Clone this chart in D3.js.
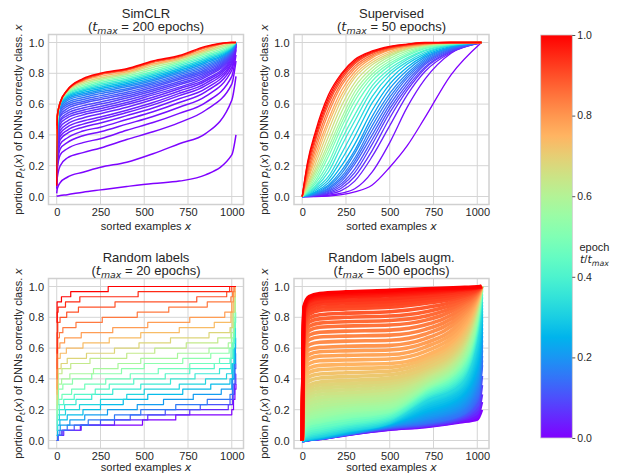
<!DOCTYPE html>
<html>
<head>
<meta charset="utf-8">
<script src="https://cdn.jsdelivr.net/npm/d3@7"></script>
<style>
body { margin: 0; background: #fff; }
svg { display: block; font-family: "Liberation Sans", Arial, sans-serif; }
</style>
</head>
<body>
<svg id="chart" width="618" height="474"></svg>
<script>
"use strict";

// ---- data ----
var xTicks = [0, 250, 500, 750, 1000];
var yTicks = [0, 0.2, 0.4, 0.6, 0.8, 1.0];
var cbarTicks = [0, 0.2, 0.4, 0.6, 0.8, 1.0];

var panelTitles = ["SimCLR", "Supervised", "Random labels", "Random labels augm."];
var panelTmax = [200, 50, 20, 500];

// SimCLR: sorted-example positions and one row per plotted epoch
var simclrX = [0, 3, 20, 60, 150, 250, 400, 550, 700, 850, 1000, 1024];
var simclrEpochs = [0, 1, 2, 3, 4, 5, 6, 7, 8, 9, 10, 12, 14, 16, 18, 20, 23, 26, 30, 35, 40, 48, 56, 66, 78, 90, 104, 118, 134, 150, 168, 184, 199];
var simclrValues = [
	[0.00, 0.003, 0.006, 0.012, 0.028, 0.043, 0.065, 0.085, 0.10, 0.14, 0.27, 0.40],
	[0.02, 0.05, 0.09, 0.125, 0.158, 0.19, 0.223, 0.278, 0.343, 0.408, 0.625, 0.78],
	[0.05, 0.12, 0.20, 0.25, 0.285, 0.315, 0.37, 0.42, 0.48, 0.56, 0.73, 0.88],
	[0.07, 0.17, 0.27, 0.31, 0.35, 0.375, 0.43, 0.48, 0.54, 0.61, 0.78, 0.92],
	[0.08, 0.20, 0.31, 0.35, 0.395, 0.42, 0.47, 0.52, 0.58, 0.65, 0.82, 0.95],
	[0.09, 0.22, 0.34, 0.38, 0.425, 0.45, 0.50, 0.55, 0.61, 0.68, 0.84, 0.96],
	[0.10, 0.24, 0.37, 0.41, 0.45, 0.477, 0.525, 0.575, 0.635, 0.70, 0.86, 0.97],
	[0.11, 0.26, 0.39, 0.43, 0.47, 0.50, 0.545, 0.595, 0.655, 0.72, 0.87, 0.975],
	[0.12, 0.28, 0.41, 0.45, 0.49, 0.516, 0.56, 0.61, 0.67, 0.735, 0.88, 0.98],
	[0.13, 0.29, 0.43, 0.47, 0.51, 0.538, 0.58, 0.63, 0.685, 0.75, 0.89, 0.98],
	[0.14, 0.31, 0.45, 0.49, 0.53, 0.555, 0.597, 0.645, 0.70, 0.76, 0.90, 0.985],
	[0.15, 0.33, 0.47, 0.51, 0.545, 0.57, 0.61, 0.66, 0.71, 0.775, 0.91, 0.99],
	[0.16, 0.34, 0.49, 0.525, 0.56, 0.585, 0.625, 0.672, 0.725, 0.785, 0.915, 0.99],
	[0.17, 0.36, 0.50, 0.54, 0.575, 0.60, 0.64, 0.685, 0.735, 0.795, 0.92, 0.99],
	[0.18, 0.37, 0.52, 0.555, 0.59, 0.614, 0.652, 0.697, 0.747, 0.805, 0.925, 0.99],
	[0.19, 0.38, 0.53, 0.57, 0.605, 0.63, 0.665, 0.71, 0.76, 0.815, 0.93, 0.995],
	[0.20, 0.39, 0.545, 0.585, 0.617, 0.642, 0.677, 0.72, 0.77, 0.825, 0.935, 0.995],
	[0.20, 0.40, 0.56, 0.598, 0.63, 0.655, 0.69, 0.73, 0.78, 0.835, 0.94, 0.995],
	[0.21, 0.41, 0.57, 0.61, 0.643, 0.668, 0.70, 0.74, 0.79, 0.845, 0.945, 0.995],
	[0.22, 0.42, 0.58, 0.623, 0.655, 0.68, 0.712, 0.752, 0.80, 0.855, 0.95, 1.0],
	[0.23, 0.43, 0.59, 0.633, 0.665, 0.69, 0.722, 0.762, 0.81, 0.865, 0.955, 1.0],
	[0.24, 0.44, 0.595, 0.642, 0.675, 0.70, 0.732, 0.772, 0.82, 0.875, 0.96, 1.0],
	[0.25, 0.45, 0.60, 0.65, 0.685, 0.71, 0.742, 0.782, 0.83, 0.885, 0.965, 1.0],
	[0.27, 0.46, 0.605, 0.657, 0.693, 0.72, 0.752, 0.792, 0.84, 0.895, 0.97, 1.0],
	[0.30, 0.47, 0.61, 0.664, 0.702, 0.73, 0.762, 0.802, 0.85, 0.905, 0.975, 1.0],
	[0.33, 0.48, 0.61, 0.67, 0.71, 0.74, 0.772, 0.812, 0.86, 0.915, 0.98, 1.0],
	[0.36, 0.49, 0.61, 0.675, 0.72, 0.75, 0.782, 0.825, 0.87, 0.925, 0.985, 1.0],
	[0.38, 0.50, 0.61, 0.68, 0.73, 0.76, 0.792, 0.838, 0.88, 0.935, 0.99, 1.0],
	[0.40, 0.51, 0.61, 0.683, 0.74, 0.77, 0.80, 0.85, 0.89, 0.945, 0.995, 1.0],
	[0.42, 0.52, 0.61, 0.686, 0.75, 0.78, 0.81, 0.86, 0.897, 0.955, 1.0, 1.0],
	[0.44, 0.52, 0.61, 0.688, 0.755, 0.79, 0.82, 0.87, 0.905, 0.965, 1.0, 1.0],
	[0.46, 0.52, 0.61, 0.69, 0.76, 0.795, 0.825, 0.875, 0.91, 0.97, 1.0, 1.0],
	[0.07, 0.52, 0.61, 0.69, 0.765, 0.80, 0.83, 0.88, 0.915, 0.975, 1.0, 1.0]
];

// Supervised
var supX = [0, 30, 75, 150, 225, 300, 400, 500, 600, 700, 850, 1024];
var supEpochs = [0, 1, 2, 3, 4, 5, 6, 7, 8, 9, 10, 12, 14, 16, 18, 20, 22, 24, 26, 28, 30, 32, 34, 36, 38, 40, 42, 44, 46, 48, 49];
var supValues = [
	[0, 0.0, 0.0, 0.003, 0.012, 0.03, 0.075, 0.19, 0.33, 0.51, 0.79, 1.0],
	[0, 0.0, 0.002, 0.008, 0.022, 0.05, 0.16, 0.35, 0.58, 0.76, 0.93, 1.0],
	[0, 0.0, 0.004, 0.015, 0.04, 0.10, 0.26, 0.46, 0.66, 0.81, 0.935, 1.0],
	[0, 0.001, 0.006, 0.02, 0.055, 0.13, 0.30, 0.51, 0.69, 0.83, 0.94, 1.0],
	[0, 0.001, 0.008, 0.027, 0.07, 0.155, 0.34, 0.545, 0.71, 0.84, 0.945, 1.0],
	[0, 0.002, 0.01, 0.033, 0.085, 0.18, 0.37, 0.57, 0.73, 0.855, 0.95, 1.0],
	[0, 0.002, 0.012, 0.04, 0.10, 0.21, 0.40, 0.595, 0.75, 0.865, 0.955, 1.0],
	[0, 0.003, 0.014, 0.048, 0.115, 0.23, 0.43, 0.62, 0.77, 0.875, 0.96, 1.0],
	[0, 0.004, 0.017, 0.055, 0.13, 0.25, 0.46, 0.645, 0.785, 0.885, 0.965, 1.0],
	[0, 0.005, 0.02, 0.065, 0.15, 0.28, 0.49, 0.67, 0.80, 0.895, 0.968, 1.0],
	[0, 0.006, 0.025, 0.075, 0.17, 0.30, 0.52, 0.70, 0.82, 0.905, 0.97, 1.0],
	[0, 0.008, 0.03, 0.09, 0.20, 0.34, 0.56, 0.73, 0.84, 0.915, 0.975, 1.0],
	[0, 0.01, 0.04, 0.11, 0.24, 0.39, 0.61, 0.76, 0.86, 0.925, 0.98, 1.0],
	[0, 0.015, 0.05, 0.13, 0.28, 0.44, 0.65, 0.79, 0.875, 0.935, 0.982, 1.0],
	[0, 0.02, 0.06, 0.16, 0.33, 0.49, 0.69, 0.81, 0.89, 0.945, 0.985, 1.0],
	[0, 0.025, 0.07, 0.19, 0.37, 0.53, 0.72, 0.83, 0.90, 0.95, 0.988, 1.0],
	[0, 0.03, 0.085, 0.22, 0.41, 0.58, 0.75, 0.85, 0.915, 0.96, 0.99, 1.0],
	[0, 0.035, 0.10, 0.26, 0.45, 0.62, 0.775, 0.865, 0.925, 0.965, 0.992, 1.0],
	[0, 0.04, 0.12, 0.29, 0.48, 0.65, 0.795, 0.88, 0.935, 0.97, 0.993, 1.0],
	[0, 0.05, 0.14, 0.32, 0.51, 0.68, 0.815, 0.895, 0.945, 0.975, 0.994, 1.0],
	[0, 0.06, 0.16, 0.35, 0.55, 0.71, 0.835, 0.91, 0.955, 0.98, 0.995, 1.0],
	[0, 0.07, 0.18, 0.39, 0.59, 0.74, 0.855, 0.92, 0.96, 0.982, 0.996, 1.0],
	[0, 0.08, 0.21, 0.43, 0.63, 0.77, 0.87, 0.93, 0.965, 0.985, 0.997, 1.0],
	[0, 0.10, 0.24, 0.47, 0.66, 0.79, 0.885, 0.94, 0.97, 0.987, 0.998, 1.0],
	[0, 0.11, 0.27, 0.50, 0.69, 0.81, 0.90, 0.95, 0.975, 0.99, 0.998, 1.0],
	[0, 0.13, 0.30, 0.54, 0.72, 0.83, 0.91, 0.955, 0.978, 0.99, 1.0, 1.0],
	[0, 0.15, 0.33, 0.57, 0.74, 0.845, 0.92, 0.96, 0.98, 0.993, 1.0, 1.0],
	[0, 0.17, 0.36, 0.60, 0.76, 0.86, 0.93, 0.965, 0.984, 0.995, 1.0, 1.0],
	[0, 0.19, 0.38, 0.62, 0.775, 0.87, 0.935, 0.968, 0.986, 0.997, 1.0, 1.0],
	[0, 0.21, 0.40, 0.64, 0.79, 0.88, 0.94, 0.972, 0.988, 0.998, 1.0, 1.0],
	[0, 0.22, 0.42, 0.66, 0.80, 0.89, 0.945, 0.975, 0.99, 1.0, 1.0, 1.0]
];

// Random labels: staircases [x, number of the 30 DNNs], one per epoch 0..19
var randNets = 30;
var randSteps = [
	[[0, 0], [5, 1], [30, 2], [135, 3], [490, 4], [680, 5], [1000, 6], [1010, 8], [1018, 10], [1024, 11]],
	[[0, 0], [8, 1], [40, 2], [140, 3], [330, 4], [520, 5], [760, 6], [980, 7], [1005, 9], [1016, 11], [1023, 13], [1024, 13]],
	[[0, 0], [6, 1], [30, 2], [100, 3], [250, 4], [420, 5], [620, 6], [820, 7], [990, 8], [1008, 11], [1018, 14], [1023, 15], [1024, 15]],
	[[0, 0], [6, 1], [18, 2], [60, 3], [180, 4], [330, 5], [480, 6], [680, 7], [860, 8], [990, 9], [1005, 12], [1016, 15], [1022, 17], [1024, 17]],
	[[0, 1], [5, 2], [20, 3], [75, 4], [160, 5], [290, 6], [460, 7], [610, 8], [780, 9], [940, 10], [1000, 12], [1012, 15], [1021, 18], [1024, 18]],
	[[0, 1], [5, 3], [18, 4], [60, 5], [150, 6], [250, 7], [380, 8], [520, 9], [720, 10], [880, 11], [990, 12], [1005, 15], [1015, 18], [1022, 20], [1024, 20]],
	[[0, 2], [4, 4], [15, 5], [50, 6], [130, 7], [250, 8], [400, 9], [500, 10], [700, 11], [850, 12], [970, 13], [1000, 15], [1012, 19], [1021, 22], [1024, 22]],
	[[0, 2], [4, 5], [15, 6], [45, 7], [110, 8], [200, 9], [320, 10], [480, 11], [650, 12], [790, 13], [930, 14], [995, 16], [1010, 20], [1020, 24], [1024, 24]],
	[[0, 3], [4, 6], [14, 7], [40, 8], [100, 9], [220, 10], [300, 11], [440, 12], [620, 13], [760, 14], [900, 15], [990, 16], [1003, 19], [1015, 23], [1022, 25], [1024, 25]],
	[[0, 4], [3, 7], [12, 8], [30, 9], [85, 10], [160, 11], [280, 12], [420, 13], [580, 14], [760, 15], [930, 16], [995, 18], [1010, 22], [1020, 26], [1024, 26]],
	[[0, 5], [3, 8], [10, 10], [35, 11], [90, 12], [200, 13], [370, 14], [500, 15], [720, 16], [880, 17], [985, 18], [1000, 20], [1012, 24], [1020, 27], [1024, 27]],
	[[0, 6], [3, 10], [10, 11], [28, 12], [75, 13], [210, 14], [350, 15], [480, 16], [690, 17], [870, 18], [980, 19], [998, 21], [1010, 25], [1020, 28], [1024, 28]],
	[[0, 7], [3, 11], [9, 13], [30, 14], [80, 15], [190, 16], [400, 17], [560, 18], [740, 19], [920, 20], [995, 22], [1008, 25], [1018, 28], [1024, 28]],
	[[0, 8], [3, 13], [8, 14], [25, 15], [60, 16], [170, 17], [330, 18], [470, 19], [650, 20], [870, 21], [990, 22], [1002, 25], [1012, 28], [1020, 29], [1024, 29]],
	[[0, 9], [2, 14], [6, 16], [20, 17], [55, 18], [150, 19], [300, 20], [480, 21], [700, 22], [900, 23], [995, 25], [1008, 28], [1018, 30], [1024, 30]],
	[[0, 10], [2, 16], [6, 18], [18, 19], [45, 20], [140, 21], [320, 22], [520, 23], [760, 24], [960, 25], [1000, 27], [1010, 29], [1018, 30], [1024, 30]],
	[[0, 12], [2, 18], [6, 20], [15, 21], [35, 22], [110, 23], [260, 24], [460, 25], [640, 26], [860, 27], [995, 28], [1005, 29], [1012, 30], [1024, 30]],
	[[0, 14], [2, 21], [6, 23], [19, 24], [57, 25], [124, 26], [333, 27], [800, 28], [971, 29], [1000, 30], [1024, 30]],
	[[0, 17], [3, 25], [8, 26], [50, 27], [132, 28], [465, 29], [988, 30], [1024, 30]],
	[[0, 23], [2, 27], [27, 28], [80, 29], [294, 30], [1024, 30]]
];

// Random labels augm.
var augX = [0, 10, 40, 100, 250, 500, 700, 900, 1000, 1024];
var augEpochs = [0, 12, 25, 37, 50, 62, 68, 75, 81, 87, 93, 100, 106, 112, 118, 125, 131, 137, 143, 150, 156, 162, 175, 187, 200, 212, 225, 237,
	250, 256, 262, 268, 275, 281, 287, 293, 300, 306, 312, 318, 325, 331, 337, 343, 350, 356, 362, 368, 375, 381, 387, 393,
	400, 406, 412, 418, 425, 431, 437, 443, 450, 456, 462, 468, 475, 481, 487, 493, 499];
var augValues = [
	[0, 0.001, 0.006, 0.013, 0.038, 0.073, 0.09, 0.12, 0.14, 0.2],
	[0, 0.001, 0.006, 0.013, 0.039, 0.075, 0.093, 0.127, 0.16, 0.25],
	[0, 0.001, 0.007, 0.014, 0.04, 0.078, 0.097, 0.135, 0.18, 0.3],
	[0, 0.001, 0.007, 0.014, 0.041, 0.081, 0.101, 0.142, 0.205, 0.36],
	[0, 0.002, 0.008, 0.015, 0.042, 0.085, 0.105, 0.15, 0.23, 0.42],
	[0, 0.002, 0.008, 0.016, 0.043, 0.088, 0.112, 0.16, 0.265, 0.49],
	[0, 0.002, 0.008, 0.016, 0.043, 0.09, 0.116, 0.165, 0.283, 0.52],
	[0, 0.002, 0.009, 0.016, 0.044, 0.092, 0.12, 0.17, 0.3, 0.55],
	[0, 0.002, 0.009, 0.016, 0.045, 0.094, 0.127, 0.182, 0.325, 0.585],
	[0, 0.003, 0.009, 0.017, 0.046, 0.096, 0.135, 0.195, 0.35, 0.62],
	[0, 0.003, 0.009, 0.017, 0.047, 0.098, 0.142, 0.207, 0.375, 0.65],
	[0, 0.003, 0.01, 0.018, 0.048, 0.1, 0.15, 0.22, 0.4, 0.68],
	[0, 0.003, 0.01, 0.019, 0.049, 0.102, 0.16, 0.235, 0.425, 0.705],
	[0, 0.004, 0.011, 0.02, 0.051, 0.105, 0.17, 0.25, 0.45, 0.73],
	[0, 0.004, 0.011, 0.021, 0.053, 0.107, 0.18, 0.265, 0.475, 0.755],
	[0, 0.005, 0.012, 0.022, 0.055, 0.11, 0.19, 0.28, 0.5, 0.78],
	[0, 0.006, 0.013, 0.024, 0.057, 0.112, 0.202, 0.295, 0.53, 0.8],
	[0, 0.007, 0.015, 0.026, 0.06, 0.115, 0.215, 0.31, 0.56, 0.82],
	[0, 0.008, 0.016, 0.028, 0.062, 0.117, 0.227, 0.325, 0.59, 0.84],
	[0, 0.01, 0.018, 0.03, 0.065, 0.12, 0.24, 0.34, 0.62, 0.86],
	[0, 0.012, 0.021, 0.033, 0.068, 0.123, 0.248, 0.35, 0.64, 0.88],
	[0, 0.014, 0.024, 0.037, 0.072, 0.127, 0.255, 0.36, 0.66, 0.9],
	[0, 0.018, 0.03, 0.045, 0.08, 0.135, 0.27, 0.38, 0.7, 0.93],
	[0, 0.024, 0.04, 0.055, 0.09, 0.142, 0.28, 0.395, 0.72, 0.95],
	[0, 0.03, 0.05, 0.065, 0.1, 0.15, 0.29, 0.41, 0.74, 0.97],
	[0, 0.04, 0.062, 0.077, 0.11, 0.16, 0.3, 0.425, 0.755, 0.98],
	[0, 0.05, 0.075, 0.09, 0.12, 0.17, 0.31, 0.44, 0.77, 0.99],
	[0, 0.062, 0.09, 0.105, 0.135, 0.18, 0.32, 0.455, 0.785, 0.995],
	[0, 0.075, 0.105, 0.12, 0.15, 0.19, 0.33, 0.47, 0.8, 1.0],
	[0, 0.083, 0.115, 0.13, 0.16, 0.197, 0.335, 0.477, 0.807, 1.0],
	[0, 0.092, 0.125, 0.14, 0.17, 0.205, 0.34, 0.485, 0.815, 1.0],
	[0, 0.1, 0.135, 0.15, 0.18, 0.212, 0.345, 0.492, 0.822, 1.0],
	[0, 0.11, 0.145, 0.16, 0.19, 0.22, 0.35, 0.5, 0.83, 1.0],
	[0, 0.122, 0.157, 0.175, 0.204, 0.232, 0.357, 0.51, 0.837, 1.0],
	[0, 0.135, 0.17, 0.19, 0.218, 0.245, 0.365, 0.52, 0.845, 1.0],
	[0, 0.147, 0.185, 0.205, 0.231, 0.257, 0.372, 0.53, 0.852, 1.0],
	[0, 0.16, 0.2, 0.22, 0.245, 0.27, 0.38, 0.54, 0.86, 1.0],
	[0, 0.177, 0.22, 0.24, 0.261, 0.285, 0.39, 0.55, 0.865, 1.0],
	[0, 0.195, 0.24, 0.26, 0.278, 0.3, 0.4, 0.56, 0.87, 1.0],
	[0, 0.212, 0.26, 0.28, 0.294, 0.317, 0.41, 0.57, 0.875, 1.0],
	[0, 0.23, 0.28, 0.3, 0.31, 0.335, 0.42, 0.58, 0.88, 1.0],
	[0, 0.25, 0.3, 0.32, 0.33, 0.352, 0.432, 0.592, 0.885, 1.0],
	[0, 0.27, 0.32, 0.34, 0.35, 0.37, 0.445, 0.605, 0.89, 1.0],
	[0, 0.29, 0.34, 0.36, 0.37, 0.387, 0.457, 0.617, 0.895, 1.0],
	[0, 0.31, 0.36, 0.38, 0.39, 0.405, 0.47, 0.63, 0.9, 1.0],
	[0, 0.335, 0.387, 0.406, 0.415, 0.427, 0.49, 0.647, 0.905, 1.0],
	[0, 0.36, 0.415, 0.432, 0.44, 0.45, 0.51, 0.665, 0.91, 1.0],
	[0, 0.385, 0.442, 0.46, 0.467, 0.475, 0.53, 0.682, 0.915, 1.0],
	[0, 0.41, 0.47, 0.488, 0.494, 0.5, 0.55, 0.7, 0.92, 1.0],
	[0, 0.437, 0.5, 0.518, 0.523, 0.529, 0.577, 0.722, 0.925, 1.0],
	[0, 0.465, 0.53, 0.548, 0.553, 0.558, 0.605, 0.745, 0.93, 1.0],
	[0, 0.492, 0.56, 0.576, 0.582, 0.588, 0.632, 0.767, 0.935, 1.0],
	[0, 0.52, 0.59, 0.605, 0.612, 0.618, 0.66, 0.79, 0.94, 1.0],
	[0, 0.547, 0.622, 0.638, 0.645, 0.651, 0.69, 0.81, 0.945, 1.0],
	[0, 0.575, 0.655, 0.672, 0.678, 0.684, 0.72, 0.83, 0.95, 1.0],
	[0, 0.602, 0.685, 0.703, 0.71, 0.717, 0.75, 0.85, 0.955, 1.0],
	[0, 0.63, 0.715, 0.735, 0.743, 0.75, 0.78, 0.87, 0.96, 1.0],
	[0, 0.657, 0.742, 0.762, 0.771, 0.779, 0.807, 0.885, 0.964, 1.0],
	[0, 0.685, 0.77, 0.79, 0.8, 0.808, 0.835, 0.9, 0.968, 1.0],
	[0, 0.712, 0.795, 0.817, 0.827, 0.836, 0.862, 0.915, 0.971, 1.0],
	[0, 0.74, 0.82, 0.845, 0.855, 0.865, 0.89, 0.93, 0.975, 1.0],
	[0, 0.76, 0.84, 0.865, 0.874, 0.884, 0.906, 0.941, 0.979, 1.0],
	[0, 0.78, 0.86, 0.885, 0.893, 0.903, 0.923, 0.953, 0.983, 1.0],
	[0, 0.8, 0.88, 0.902, 0.911, 0.921, 0.939, 0.964, 0.986, 1.0],
	[0, 0.82, 0.9, 0.92, 0.93, 0.94, 0.955, 0.975, 0.99, 1.0],
	[0, 0.832, 0.909, 0.929, 0.939, 0.949, 0.962, 0.98, 0.992, 1.0],
	[0, 0.845, 0.918, 0.938, 0.948, 0.958, 0.97, 0.984, 0.994, 1.0],
	[0, 0.857, 0.926, 0.946, 0.956, 0.966, 0.977, 0.988, 0.996, 1.0],
	[0, 0.87, 0.935, 0.955, 0.965, 0.975, 0.985, 0.993, 0.998, 1.0]
];

// ---- drawing ----
var svg = d3.select("#chart");
var textColor = "#262626";
var gridColor = "#d5d5d5";
var pw = 195, ph = 170;
var panelPos = [[48.5, 34.5], [294, 34.5], [48.5, 278.5], [294, 278.5]];

// matplotlib "rainbow" colormap
function rainbow(t) {
	var r = Math.min(1, Math.abs(2 * t - 0.5)),
		g = Math.sin(Math.PI * t),
		b = Math.max(0, Math.cos(Math.PI * t / 2));
	return d3.rgb(r * 255, g * 255, b * 255).formatHex();
}

// text made of plain / italic / italic-subscript pieces
function richText(sel, parts) {
	var shift = 0;
	parts.forEach(function(p) {
		var ts = sel.append("tspan").text(p[0]);
		if (p[1] === "i" || p[1] === "sub") {
			ts.attr("font-family", "DejaVu Sans").attr("font-style", "italic");
		}
		if (p[1] === "sub") {
			ts.attr("font-size", "0.72em").attr("dy", 3 - shift);
			shift = 3;
		} else if (shift) {
			ts.attr("dy", -shift);
			shift = 0;
		}
	});
	return sel;
}

function makePanel(i) {
	var left = panelPos[i][0], top = panelPos[i][1];
	var x = d3.scaleLinear().domain([-47, 1067]).range([left, left + pw]);
	var y = d3.scaleLinear().domain([-0.052, 1.052]).range([top + ph, top]);
	var g = svg.append("g");

	var grid = g.append("g").attr("stroke", gridColor).attr("stroke-width", 1);
	grid.selectAll(".vx").data(xTicks).join("line")
		.attr("x1", function(d) { return x(d); }).attr("x2", function(d) { return x(d); })
		.attr("y1", top).attr("y2", top + ph);
	grid.selectAll(".hy").data(yTicks).join("line")
		.attr("y1", function(d) { return y(d); }).attr("y2", function(d) { return y(d); })
		.attr("x1", left).attr("x2", left + pw);

	var curves = g.append("g").attr("fill", "none").attr("stroke-linejoin", "round");

	g.append("rect")
		.attr("x", left).attr("y", top).attr("width", pw).attr("height", ph)
		.attr("fill", "none").attr("stroke", "#d0d0d0").attr("stroke-width", 1.5);

	var ax = g.append("g")
		.attr("transform", "translate(0," + (top + ph) + ")")
		.call(d3.axisBottom(x).tickValues(xTicks).tickSize(0).tickPadding(3.7).tickFormat(d3.format("d")));
	var ay = g.append("g")
		.attr("transform", "translate(" + left + ",0)")
		.call(d3.axisLeft(y).tickValues(yTicks).tickSize(0).tickPadding(4.5).tickFormat(d3.format(".1f")));
	[ax, ay].forEach(function(a) {
		a.select(".domain").remove();
		a.attr("font-family", null).attr("font-size", 11);
		a.selectAll("text").attr("fill", textColor);
	});

	// title
	var cx = left + pw / 2;
	g.append("text").attr("x", cx).attr("y", top - 17).attr("text-anchor", "middle")
		.attr("font-size", 13).attr("fill", textColor).text(panelTitles[i]);
	richText(g.append("text").attr("x", cx).attr("y", top - 3.5).attr("text-anchor", "middle")
		.attr("font-size", 13).attr("fill", textColor),
		[["(", ""], ["t", "i"], ["max", "sub"], [" = " + panelTmax[i] + " epochs)", ""]]);

	// axis labels (bottom row sits against the lower page edge)
	var labelGap = i < 2 ? 25 : 22.5;
	richText(g.append("text").attr("x", cx).attr("y", top + ph + labelGap).attr("text-anchor", "middle")
		.attr("font-size", 11).attr("fill", textColor),
		[["sorted examples ", ""], ["x", "i"]]);
	richText(g.append("text")
		.attr("transform", "translate(" + (left - 26.5) + "," + (top + ph / 2) + ") rotate(-90)")
		.attr("text-anchor", "middle").attr("font-size", 11).attr("fill", textColor),
		[["portion ", ""], ["p", "i"], ["t", "sub"], ["(", ""], ["x", "i"], [") of DNNs correctly class. ", ""], ["x", "i"]]);

	return {x: x, y: y, curves: curves};
}

function drawSmooth(p, xs, epochs, rows, tmax, width) {
	var line = d3.line()
		.x(function(d, j) { return p.x(xs[j]); })
		.y(function(d) { return p.y(d); })
		.curve(d3.curveMonotoneX);
	p.curves.selectAll("path.c").data(rows).join("path")
		.attr("class", "c")
		.attr("stroke", function(d, k) { return rainbow(epochs[k] / (tmax - 1)); })
		.attr("stroke-width", width)
		.attr("d", line);
}

var p1 = makePanel(0);
drawSmooth(p1, simclrX, simclrEpochs, simclrValues, panelTmax[0], 1.5);

var p2 = makePanel(1);
drawSmooth(p2, supX, supEpochs, supValues, panelTmax[1], 1.3);

var p3 = makePanel(2);
var stepLine = d3.line()
	.x(function(d) { return p3.x(d[0]); })
	.y(function(d) { return p3.y(d[1] / randNets); })
	.curve(d3.curveStepAfter);
p3.curves.selectAll("path.c").data(randSteps).join("path")
	.attr("class", "c")
	.attr("stroke", function(d, k) { return rainbow(k / (randSteps.length - 1)); })
	.attr("stroke-width", 1.2)
	.attr("d", stepLine);

var p4 = makePanel(3);
drawSmooth(p4, augX, augEpochs, augValues, panelTmax[3], 3.6);

// ---- colorbar ----
var cbX = 540.7, cbW = 31.6, cbTop = 35, cbBottom = 438;
var cScale = d3.scaleLinear().domain([0, 1]).range([cbBottom, cbTop]);
var grad = svg.append("defs").append("linearGradient")
	.attr("id", "cbar").attr("x1", 0).attr("y1", 1).attr("x2", 0).attr("y2", 0);
grad.selectAll("stop").data(d3.range(0, 1.0001, 0.05)).join("stop")
	.attr("offset", function(d) { return d; })
	.attr("stop-color", function(d) { return rainbow(d); });
svg.append("rect")
	.attr("x", cbX).attr("y", cbTop).attr("width", cbW).attr("height", cbBottom - cbTop)
	.attr("fill", "url(#cbar)").attr("stroke", "#cccccc").attr("stroke-width", 0.8);
var cax = svg.append("g")
	.attr("transform", "translate(" + (cbX + cbW) + ",0)")
	.call(d3.axisRight(cScale).tickValues(cbarTicks).tickSize(3).tickPadding(2).tickFormat(d3.format(".1f")));
cax.select(".domain").remove();
cax.attr("font-family", null).attr("font-size", 10.5);
cax.selectAll("text").attr("fill", textColor);
cax.selectAll("line").attr("stroke", textColor).attr("stroke-width", 0.8);

svg.append("text").attr("x", 594.5).attr("y", 250.5).attr("text-anchor", "middle")
	.attr("font-size", 11).attr("fill", textColor).text("epoch");
richText(svg.append("text").attr("x", 594.5).attr("y", 262.5).attr("text-anchor", "middle")
	.attr("font-size", 11).attr("fill", textColor),
	[["t", "i"], ["/", ""], ["t", "i"], ["max", "sub"]]);
</script>
</body>
</html>
